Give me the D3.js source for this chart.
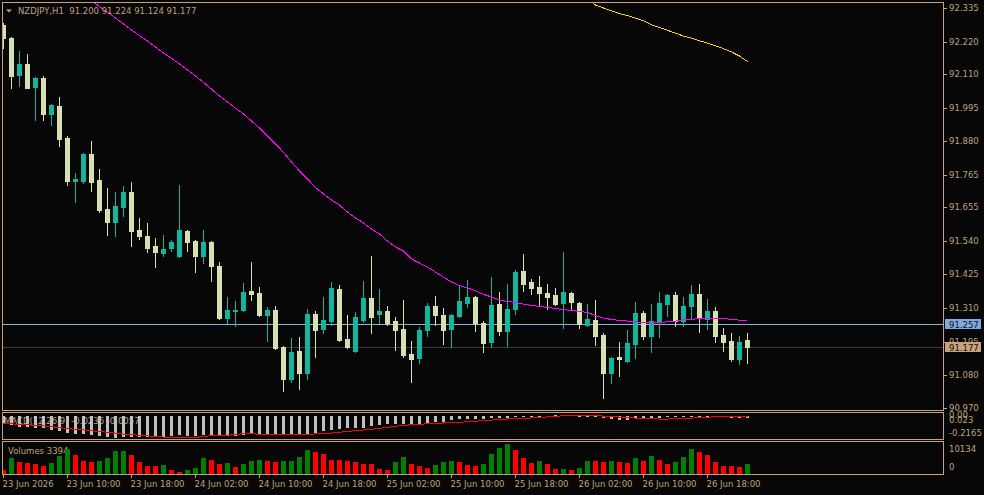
<!DOCTYPE html>
<html>
<head>
<meta charset="utf-8">
<script src="https://cdn.jsdelivr.net/npm/d3@7"></script>
<style>
  html, body { margin: 0; padding: 0; background: #070707; }
  svg { display: block; }
  text { font-family: "DejaVu Sans", sans-serif; font-size: 8.5px; fill: #bfa27f; }
</style>
</head>
<body>
<div id="chart"></div>
<script>

// NZDJPY H1 bars, 23 Jun 02:00 .. 26 Jun 23:00
var symbol = "NZDJPY,H1";

var opens = [92.277, 92.234, 92.106, 92.145, 92.065, 92.097, 91.974, 92.000, 91.891, 91.744,
    91.744, 91.837, 91.748, 91.649, 91.604, 91.655, 91.707, 91.577, 91.556, 91.522,
    91.498, 91.515, 91.488, 91.573, 91.539, 91.488, 91.536, 91.454, 91.276, 91.300,
    91.304, 91.369, 91.362, 91.287, 91.304, 91.177, 91.068, 91.164, 91.089, 91.290,
    91.239, 91.266, 91.375, 91.205, 91.164, 91.270, 91.345, 91.290, 91.300, 91.266,
    91.239, 91.153, 91.140, 91.235, 91.317, 91.287, 91.239, 91.283, 91.328, 91.348,
    91.259, 91.194, 91.324, 91.232, 91.307, 91.437, 91.399, 91.382, 91.362, 91.355,
    91.328, 91.362, 91.328, 91.252, 91.270, 91.218, 91.089, 91.143, 91.130, 91.188,
    91.293, 91.215, 91.263, 91.324, 91.355, 91.266, 91.317, 91.358, 91.273, 91.300,
    91.218, 91.198, 91.136, 91.200];

var highs = [92.284, 92.237, 92.188, 92.178, 92.100, 92.103, 92.007, 92.031, 91.898, 91.772,
    91.841, 91.881, 91.785, 91.720, 91.707, 91.727, 91.741, 91.618, 91.601, 91.550,
    91.560, 91.543, 91.731, 91.577, 91.543, 91.577, 91.539, 91.468, 91.348, 91.334,
    91.396, 91.468, 91.382, 91.314, 91.317, 91.181, 91.208, 91.211, 91.307, 91.300,
    91.348, 91.399, 91.389, 91.287, 91.297, 91.403, 91.488, 91.375, 91.317, 91.280,
    91.338, 91.198, 91.246, 91.328, 91.351, 91.310, 91.290, 91.386, 91.406, 91.351,
    91.266, 91.416, 91.365, 91.392, 91.440, 91.495, 91.410, 91.420, 91.392, 91.379,
    91.502, 91.365, 91.331, 91.324, 91.338, 91.225, 91.143, 91.194, 91.235, 91.331,
    91.300, 91.324, 91.365, 91.358, 91.365, 91.348, 91.389, 91.392, 91.341, 91.314,
    91.242, 91.225, 91.215, 91.224];

var lows = [92.199, 92.063, 92.070, 92.062, 91.954, 91.954, 91.936, 91.864, 91.731, 91.672,
    91.737, 91.710, 91.638, 91.560, 91.556, 91.625, 91.522, 91.546, 91.502, 91.451,
    91.488, 91.505, 91.485, 91.505, 91.433, 91.464, 91.403, 91.273, 91.259, 91.249,
    91.300, 91.338, 91.283, 91.198, 91.170, 91.027, 91.058, 91.034, 91.068, 91.143,
    91.225, 91.252, 91.198, 91.174, 91.160, 91.263, 91.225, 91.259, 91.252, 91.167,
    91.143, 91.058, 91.123, 91.215, 91.252, 91.188, 91.177, 91.280, 91.314, 91.232,
    91.160, 91.177, 91.218, 91.181, 91.290, 91.369, 91.358, 91.321, 91.307, 91.321,
    91.242, 91.304, 91.242, 91.249, 91.184, 91.003, 91.054, 91.078, 91.126, 91.140,
    91.205, 91.160, 91.211, 91.283, 91.249, 91.249, 91.273, 91.229, 91.239, 91.194,
    91.164, 91.130, 91.119, 91.124];

var closes = [92.234, 92.104, 92.145, 92.063, 92.097, 91.974, 92.004, 91.889, 91.744, 91.751,
    91.837, 91.741, 91.645, 91.604, 91.659, 91.707, 91.573, 91.556, 91.515, 91.502,
    91.512, 91.536, 91.577, 91.536, 91.488, 91.536, 91.454, 91.276, 91.304, 91.304,
    91.365, 91.358, 91.287, 91.304, 91.174, 91.068, 91.160, 91.089, 91.290, 91.235,
    91.270, 91.379, 91.201, 91.177, 91.280, 91.345, 91.280, 91.300, 91.259, 91.235,
    91.150, 91.136, 91.235, 91.317, 91.287, 91.235, 91.287, 91.334, 91.348, 91.259,
    91.191, 91.321, 91.232, 91.307, 91.433, 91.392, 91.379, 91.362, 91.348, 91.324,
    91.365, 91.331, 91.256, 91.273, 91.215, 91.089, 91.140, 91.136, 91.191, 91.293,
    91.215, 91.266, 91.328, 91.355, 91.266, 91.317, 91.358, 91.280, 91.300, 91.215,
    91.194, 91.136, 91.194, 91.177];

// moving averages (only the part that is inside the window)
var maFastStart = 11;
var maFast = [92.360, 92.340, 92.320, 92.301, 92.280, 92.260, 92.241, 92.222, 92.202, 92.181,
    92.163, 92.144, 92.123, 92.103, 92.081, 92.058, 92.034, 92.014, 91.993, 91.973,
    91.949, 91.925, 91.898, 91.871, 91.842, 91.809, 91.778, 91.751, 91.722, 91.700,
    91.679, 91.662, 91.638, 91.618, 91.601, 91.580, 91.563, 91.539, 91.519, 91.505,
    91.478, 91.464, 91.450, 91.433, 91.416, 91.399, 91.387, 91.379, 91.369, 91.357,
    91.348, 91.338, 91.333, 91.329, 91.324, 91.319, 91.316, 91.312, 91.309, 91.305,
    91.302, 91.299, 91.295, 91.285, 91.276, 91.271, 91.268, 91.266, 91.263, 91.262,
    91.262, 91.262, 91.263, 91.266, 91.270, 91.272, 91.274, 91.275, 91.275, 91.275,
    91.271, 91.269, 91.268];

var maSlowStart = 73;
var maSlow = [92.366, 92.345, 92.335, 92.325, 92.316, 92.309, 92.300, 92.291, 92.278, 92.268,
    92.259, 92.249, 92.239, 92.232, 92.223, 92.215, 92.206, 92.196, 92.185, 92.171,
    92.152];

var macdMain = [-0.075, -0.087, -0.104, -0.106, -0.114, -0.121, -0.136, -0.146, -0.163, -0.173,
    -0.179, -0.181, -0.195, -0.207, -0.2165, -0.202, -0.206, -0.209, -0.210, -0.207,
    -0.202, -0.197, -0.185, -0.192, -0.195, -0.182, -0.185, -0.189, -0.192, -0.194,
    -0.187, -0.172, -0.172, -0.173, -0.175, -0.185, -0.187, -0.179, -0.172, -0.170,
    -0.146, -0.133, -0.130, -0.121, -0.114, -0.113, -0.097, -0.087, -0.082, -0.075,
    -0.082, -0.081, -0.075, -0.065, -0.055, -0.056, -0.043, -0.033, -0.026, -0.026,
    -0.027, -0.023, -0.023, -0.024, -0.007, -0.004, 0.004, 0.006, 0.008, 0.010,
    0.011, 0.012, 0.007, -0.005, -0.013, -0.023, -0.033, -0.043, -0.042, -0.033,
    -0.032, -0.023, -0.022, -0.010, -0.009, -0.004, 0.002, -0.006, 0.001, -0.005,
    -0.013, -0.017, -0.022, -0.0236];

var macdSignal = [-0.067, -0.073, -0.078, -0.083, -0.087, -0.094, -0.102, -0.109, -0.119, -0.127,
    -0.133, -0.141, -0.148, -0.156, -0.163, -0.173, -0.179, -0.185, -0.192, -0.199,
    -0.202, -0.205, -0.205, -0.205, -0.204, -0.199, -0.187, -0.183, -0.183, -0.176,
    -0.170, -0.172, -0.173, -0.174, -0.174, -0.175, -0.176, -0.176, -0.175, -0.172,
    -0.166, -0.163, -0.156, -0.148, -0.140, -0.133, -0.127, -0.117, -0.107, -0.097,
    -0.089, -0.082, -0.078, -0.072, -0.067, -0.065, -0.064, -0.060, -0.052, -0.048,
    -0.039, -0.036, -0.026, -0.026, -0.023, -0.019, -0.016, -0.009, -0.006, 0.000,
    0.006, 0.009, 0.010, 0.010, 0.008, 0.002, -0.002, -0.007, -0.011, -0.017,
    -0.021, -0.024, -0.026, -0.026, -0.025, -0.021, -0.017, -0.012, -0.008, -0.004,
    -0.002, -0.001, -0.002, -0.0057];

var volumes = [1350, 5070, 4050, 3720, 3380, 2700, 3720, 5750, 8110, 6080,
    4390, 4050, 4390, 5070, 7440, 7520, 6080, 4050, 2700, 2650,
    3040, 1350, 680, 1350, 2030, 5070, 4730, 3380, 3720, 2370,
    3380, 4390, 4730, 4390, 4050, 4100, 4390, 5410, 7770, 7100,
    6420, 4730, 4700, 4390, 4050, 3380, 3350, 1690, 1350, 4050,
    5410, 3380, 2700, 2030, 3040, 4050, 4390, 4050, 3040, 2700,
    3380, 6420, 8450, 9800, 7770, 5070, 3720, 4390, 3380, 1690,
    1720, 1350, 2030, 4390, 4350, 4050, 4390, 4050, 3720, 5070,
    4390, 5750, 4730, 3380, 4050, 5410, 8110, 7100, 6080, 4050,
    2700, 2650, 2370, 3394];

var askPrice = 91.257;

var priceTicks = [92.335, 92.220, 92.110, 91.995, 91.880, 91.765, 91.655, 91.540, 91.425, 91.310, 91.195, 91.080, 90.970];
var macdRange = [-0.2165, 0.023];
var volumeMax = 10134;
var timeLabels = ["23 Jun 2026", "23 Jun 10:00", "23 Jun 18:00", "24 Jun 02:00", "24 Jun 10:00", "24 Jun 18:00",
    "25 Jun 02:00", "25 Jun 10:00", "25 Jun 18:00", "26 Jun 02:00", "26 Jun 10:00", "26 Jun 18:00"];
var timeLabelStep = 8;

var n = opens.length;
var last = n - 1;

var W = 984, H = 495;
var left = 2, right = 943;
var frame = "#c8a27c";
var bullColor = "#0eb89e", bearColor = "#d7e0b0";

var svg = d3.select("#chart").append("svg")
    .attr("width", W)
    .attr("height", H);

svg.append("rect").attr("width", W).attr("height", H).attr("fill", "#070707");

var defs = svg.append("defs");
function clip(id, y0, y1) {
    defs.append("clipPath").attr("id", id)
        .append("rect").attr("x", left + 1).attr("y", y0).attr("width", right - left - 1).attr("height", y1 - y0);
}
clip("clipMain", 3, 410);
clip("clipMacd", 413, 439);
clip("clipVol", 442, 474);

function crisp(v) { return Math.round(v) + 0.5; }

// scales
var x = d3.scaleLinear().domain([0, last]).range([3.5, 3.5 + 8 * last]);
var y = d3.scaleLinear().domain([90.970, 92.335]).range([407.7, 8]);
var yMacd = d3.scaleLinear().domain(macdRange).range([438.5, 414]);
var yVol = d3.scaleLinear().domain([0, volumeMax]).range([474, 443]);

// ---------- main panel ----------
var main = svg.append("g").attr("clip-path", "url(#clipMain)");

// bid and ask lines
main.append("line")
    .attr("x1", left).attr("x2", right)
    .attr("y1", crisp(y(closes[last]))).attr("y2", crisp(y(closes[last])))
    .attr("stroke", "#3a3a3a");
main.append("line")
    .attr("x1", left).attr("x2", right)
    .attr("y1", crisp(y(askPrice))).attr("y2", crisp(y(askPrice)))
    .attr("stroke", "#8db2db");

var idx = d3.range(n);
function candleColor(i) { return closes[i] > opens[i] ? bullColor : bearColor; }

main.append("g").selectAll("line")
    .data(idx)
    .join("line")
    .attr("x1", function (i) { return x(i) }).attr("x2", function (i) { return x(i) })
    .attr("y1", function (i) { return Math.round(y(highs[i])) })
    .attr("y2", function (i) { return Math.round(y(lows[i])) + 1 })
    .attr("stroke", candleColor)
    .attr("shape-rendering", "crispEdges");

main.append("g").selectAll("rect")
    .data(idx)
    .join("rect")
    .attr("x", function (i) { return x(i) - 2.5 })
    .attr("y", function (i) { return Math.round(y(Math.max(opens[i], closes[i]))) })
    .attr("width", 5)
    .attr("height", function (i) {
        return Math.round(y(Math.min(opens[i], closes[i]))) - Math.round(y(Math.max(opens[i], closes[i]))) + 1;
    })
    .attr("fill", candleColor)
    .attr("shape-rendering", "crispEdges");

// moving averages
var maLine = d3.line()
    .x(function (d) { return x(d.i) })
    .y(function (d) { return y(d.v) });

function maPoints(values, start) {
    return values.map(function (v, k) { return { i: start + k, v: v }; });
}

main.append("path")
    .datum(maPoints(maFast, maFastStart))
    .attr("d", maLine)
    .attr("fill", "none")
    .attr("stroke", "#ff00ff")
    .attr("stroke-width", 1)
    .attr("shape-rendering", "crispEdges");

main.append("path")
    .datum(maPoints(maSlow, maSlowStart))
    .attr("d", maLine)
    .attr("fill", "none")
    .attr("stroke", "#ffd000")
    .attr("stroke-width", 1)
    .attr("shape-rendering", "crispEdges");

// title
svg.append("path")
    .attr("d", "M6,9.5L12,9.5L9,12.5Z")
    .attr("fill", frame);
svg.append("text")
    .attr("x", 18)
    .attr("y", 14)
    .style("white-space", "pre")
    .text(symbol + "  " + [opens[last], highs[last], lows[last], closes[last]].map(function (v) { return v.toFixed(3) }).join(" "));

// ---------- MACD panel ----------
svg.append("text")
    .attr("x", 4)
    .attr("y", 424)
    .text("MACD(12,26,9) " + macdMain[last].toFixed(4) + " " + macdSignal[last].toFixed(4));

var macd = svg.append("g").attr("clip-path", "url(#clipMacd)");

macd.selectAll("rect")
    .data(idx)
    .join("rect")
    .attr("x", function (i) { return x(i) - 1.5 })
    .attr("y", function (i) { return Math.round(Math.min(yMacd(0), yMacd(macdMain[i]))) })
    .attr("width", 3)
    .attr("height", function (i) { return Math.max(1, Math.round(Math.abs(yMacd(0) - yMacd(macdMain[i])))) })
    .attr("fill", "#c0c0c0")
    .attr("shape-rendering", "crispEdges");

macd.append("path")
    .datum(idx)
    .attr("d", d3.line().x(function (i) { return x(i) }).y(function (i) { return yMacd(macdSignal[i]) }))
    .attr("fill", "none")
    .attr("stroke", "#ff0000")
    .attr("shape-rendering", "crispEdges");

// ---------- volume panel ----------
svg.append("text")
    .attr("x", 8)
    .attr("y", 454)
    .text("Volumes " + volumes[last]);

var vol = svg.append("g").attr("clip-path", "url(#clipVol)");

vol.selectAll("rect")
    .data(idx)
    .join("rect")
    .attr("x", function (i) { return x(i) - 2.5 })
    .attr("y", function (i) { return Math.round(yVol(volumes[i])) })
    .attr("width", 5)
    .attr("height", function (i) { return yVol(0) - Math.round(yVol(volumes[i])) })
    .attr("fill", function (i) { return i > 0 && volumes[i] > volumes[i - 1] ? "#008000" : "#ff0000" })
    .attr("shape-rendering", "crispEdges");

// ---------- frames ----------
[[2, 410], [412, 439], [441, 474]].forEach(function (p) {
    svg.append("rect")
        .attr("x", left + 0.5).attr("y", p[0] + 0.5)
        .attr("width", right - left).attr("height", p[1] - p[0])
        .attr("fill", "none")
        .attr("stroke", frame);
});

// ---------- price axis ----------
var axis = svg.append("g");
axis.selectAll("line")
    .data(priceTicks)
    .join("line")
    .attr("x1", right + 0.5).attr("x2", right + 4)
    .attr("y1", function (d) { return crisp(y(d)) }).attr("y2", function (d) { return crisp(y(d)) })
    .attr("stroke", frame);
axis.selectAll("text")
    .data(priceTicks)
    .join("text")
    .attr("x", 949)
    .attr("y", function (d) { return y(d) + 3 })
    .text(function (d) { return d.toFixed(3) });

function priceBox(v, bg) {
    var cy = Math.round(y(v));
    svg.append("rect")
        .attr("x", 945).attr("y", cy - 5)
        .attr("width", 36).attr("height", 10)
        .attr("fill", bg);
    svg.append("text")
        .attr("x", 949).attr("y", cy + 3.5)
        .style("fill", "#111")
        .text(v.toFixed(3));
}
priceBox(askPrice, "#7fa8dc");
priceBox(closes[last], frame);

// sub-window scale labels
svg.append("text").attr("x", 949).attr("y", 417.5).text("0.00");
svg.append("text").attr("x", 949).attr("y", 422.5).text(macdRange[1].toFixed(3));
svg.append("text").attr("x", 949).attr("y", 436).text(macdRange[0].toFixed(4));
svg.append("text").attr("x", 949).attr("y", 451.7).text(volumeMax);
svg.append("text").attr("x", 949).attr("y", 470).text("0");

// ---------- time axis ----------
var timeTicks = timeLabels.map(function (t, k) { return { i: k * timeLabelStep, t: t }; });
var tAxis = svg.append("g");
tAxis.selectAll("line")
    .data(timeTicks)
    .join("line")
    .attr("x1", function (d) { return x(d.i) }).attr("x2", function (d) { return x(d.i) })
    .attr("y1", 475).attr("y2", 478)
    .attr("stroke", frame);
tAxis.selectAll("text")
    .data(timeTicks)
    .join("text")
    .attr("x", function (d) { return x(d.i) - 1 })
    .attr("y", 487)
    .text(function (d) { return d.t });

</script>
</body>
</html>
